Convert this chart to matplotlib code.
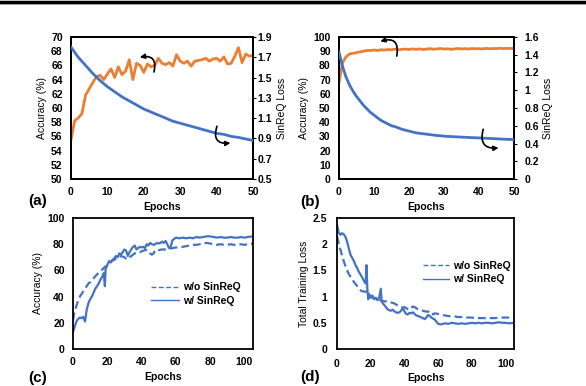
import numpy as np
import matplotlib
matplotlib.use("Agg")
import matplotlib.pyplot as plt
from matplotlib.patches import FancyArrowPatch
from matplotlib.lines import Line2D

plt.rcParams['font.family'] = ['Liberation Sans', 'DejaVu Sans']

ORANGE = '#ED7D31'
BLUE = '#4472C4'

# ---------------- data ----------------
# (a)
a_epochs = list(range(0, 51))
a_acc = [55.5, 58.2, 58.6, 59.2, 61.8, 62.7, 63.6, 64.4, 64.6, 64.0,
         64.8, 65.5, 64.3, 65.8, 64.7, 65.2, 66.8, 64.0, 66.3, 66.0,
         65.0, 66.2, 65.8, 66.0, 67.0, 66.3, 66.1, 66.4, 65.9, 67.5,
         66.6, 66.3, 66.6, 65.9, 66.6, 66.7, 66.8, 67.0, 66.6, 66.9,
         67.0, 66.6, 67.2, 66.2, 66.3, 67.3, 68.5, 66.4, 67.6, 67.3, 67.4]
a_loss_epochs = [0, 2, 4, 6, 8, 10, 12, 14, 16, 18, 20, 22, 24, 26, 28, 30,
                 32, 34, 36, 38, 40, 42, 44, 46, 48, 50]
a_loss = [1.80, 1.70, 1.62, 1.54, 1.47, 1.41, 1.36, 1.31, 1.27, 1.23, 1.19,
          1.16, 1.13, 1.10, 1.07, 1.05, 1.03, 1.01, 0.99, 0.97, 0.95, 0.94,
          0.92, 0.91, 0.895, 0.88]

# (b)
b_epochs = list(range(0, 51))
b_acc = [68, 82, 86, 88, 88.5, 89, 89.5, 90, 90.5, 90.5,
         90.8, 90.5, 91, 90.8, 91.2, 91, 91.5, 91, 91.3, 91.5,
         91.2, 91.6, 91.3, 91.6, 91.2, 91.5, 91.8, 91.4, 91.6, 91.9,
         91.5, 91.7, 91.3, 91.6, 91.9, 91.6, 91.8, 91.5, 91.9, 91.7,
         91.8, 91.6, 92.0, 91.7, 91.9, 91.8, 92.1, 91.8, 92.0, 91.9, 92.0]
b_loss = [1.43, 1.27, 1.15, 1.06, 0.99, 0.93, 0.88, 0.83, 0.79, 0.75,
          0.72, 0.69, 0.66, 0.64, 0.62, 0.60, 0.59, 0.575, 0.56, 0.55,
          0.54, 0.53, 0.52, 0.515, 0.51, 0.505, 0.50, 0.495, 0.49, 0.487,
          0.483, 0.48, 0.478, 0.476, 0.474, 0.472, 0.47, 0.468, 0.466, 0.465,
          0.463, 0.461, 0.459, 0.457, 0.455, 0.453, 0.451, 0.449, 0.447, 0.446, 0.445]

# (c)
c_w_epochs = [0, 1, 2, 3, 4, 5, 6, 7, 8, 9, 10, 11, 12, 13, 14, 15, 16, 17, 18, 18.6,
              19, 20, 21, 22, 23, 24, 25, 26, 27, 28, 29, 30, 31, 32, 33, 34, 35, 36,
              37, 38, 39, 40, 41, 42, 43, 44, 45, 46, 47, 48, 49, 50, 51, 52, 53, 54,
              55, 56, 57, 58, 59, 60, 62, 64, 66, 68, 70, 72, 74, 76, 78, 80, 82, 84,
              86, 88, 90, 92, 94, 96, 98, 100, 102, 105]
c_w_acc = [13, 17, 21, 23, 24, 23.5, 24.5, 21, 30, 35, 38, 40, 43, 46, 48, 50, 53, 55, 58, 48,
           61, 64, 67, 66, 68, 69, 71, 70, 73, 72, 74, 76, 75, 71, 74, 76, 78, 79,
           76, 77, 78, 77.5, 78, 77, 80, 79, 81, 80, 79.5, 80, 81, 80.5, 81, 82, 81, 82.5,
           80, 77, 78, 83, 84, 85, 84.5, 85, 84.5, 85, 84.5, 85.5, 85, 85.5, 86, 86, 85.5, 85,
           85.5, 85, 85, 85.5, 85, 85, 85.5, 85, 85.5, 86]
c_wo_epochs = [0, 1, 2, 3, 4, 5, 6, 7, 8, 9, 10, 11, 12, 13, 14, 15, 16, 17, 18, 19,
               20, 21, 22, 23, 24, 25, 26, 27, 28, 29, 30, 31, 32, 33, 34, 35, 36, 37,
               38, 39, 40, 41, 42, 43, 44, 45, 46, 47, 48, 49, 50, 52, 54, 56, 58, 60,
               62, 64, 66, 68, 70, 72, 74, 76, 78, 80, 82, 84, 86, 88, 90, 92, 94, 96,
               98, 100, 102, 105]
c_wo_acc = [22, 29, 33, 37, 40, 42, 44, 46, 48, 50, 51, 53, 54, 55.5, 57, 58, 59, 60.5, 62, 63,
            64, 66, 67, 67.5, 68, 69, 70, 70, 71, 70.5, 70, 69, 68.5, 69.5, 71, 72, 73, 73,
            74, 74, 74.5, 75, 75.5, 75.5, 75, 73, 72, 73, 75.5, 76, 75.5, 76, 76, 76.5, 77, 77.5,
            77.5, 78, 78.5, 79, 79.5, 79.5, 80, 80.5, 81, 80.5, 80, 79.5, 80, 79.5, 79.5, 80, 79.5, 79.5,
            80, 79.5, 80, 80.5]

# (d)
d_w_epochs = [0, 1, 2, 3, 4, 5, 6, 7, 8, 9, 10, 11, 12, 13, 14, 15, 16, 17, 17.5, 18,
              18.5, 19, 20, 21, 22, 23, 24, 25, 26, 26.5, 27, 28, 29, 30, 31, 32, 33, 34,
              35, 36, 37, 38, 39, 40, 41, 42, 43, 44, 45, 46, 47, 48, 49, 50, 51, 52,
              53, 54, 55, 56, 57, 58, 59, 60, 62, 64, 66, 68, 70, 72, 74, 76, 78, 80,
              82, 84, 86, 88, 90, 92, 94, 96, 98, 100, 102, 105]
d_w_loss = [2.37, 2.22, 2.18, 2.21, 2.19, 2.14, 2.05, 1.92, 1.80, 1.74, 1.68, 1.60, 1.54, 1.47,
            1.42, 1.36, 1.30, 1.25, 1.60, 1.15, 0.95, 1.05, 0.98, 1.02, 0.95, 0.98, 0.93, 0.98,
            1.15, 0.90, 0.88, 0.84, 0.80, 0.76, 0.74, 0.73, 0.75, 0.72, 0.70, 0.69, 0.70, 0.73,
            0.78, 0.72, 0.67, 0.66, 0.69, 0.68, 0.70, 0.67, 0.64, 0.63, 0.62, 0.60, 0.59, 0.57,
            0.60, 0.65, 0.63, 0.60, 0.58, 0.56, 0.52, 0.48, 0.47, 0.49, 0.48, 0.50, 0.49, 0.48,
            0.49, 0.48, 0.49, 0.50, 0.49, 0.50, 0.49, 0.50, 0.50, 0.49, 0.50, 0.51, 0.50, 0.50,
            0.49, 0.50]
d_wo_epochs = [0, 1, 2, 3, 4, 5, 6, 7, 8, 9, 10, 11, 12, 13, 14, 15, 16, 17, 18, 19,
               20, 21, 22, 23, 24, 25, 26, 27, 28, 29, 30, 31, 32, 33, 34, 35, 36, 37,
               38, 39, 40, 41, 42, 43, 44, 45, 46, 47, 48, 49, 50, 52, 54, 55, 56, 57,
               58, 60, 62, 64, 66, 68, 70, 72, 74, 76, 78, 80, 82, 84, 86, 88, 90, 92,
               94, 96, 98, 100, 102, 105]
d_wo_loss = [2.15, 2.02, 1.90, 1.78, 1.68, 1.58, 1.50, 1.43, 1.38, 1.33, 1.28, 1.24, 1.20, 1.16,
             1.12, 1.10, 1.10, 1.09, 1.10, 1.05, 1.00, 0.98, 0.97, 0.95, 0.95, 0.94, 0.93, 0.92,
             0.91, 0.91, 0.90, 0.90, 0.89, 0.88, 0.87, 0.85, 0.83, 0.82, 0.80, 0.79, 0.80, 0.78,
             0.76, 0.75, 0.78, 0.81, 0.80, 0.78, 0.76, 0.75, 0.74, 0.72, 0.71, 0.73, 0.70, 0.66,
             0.68, 0.67, 0.65, 0.64, 0.63, 0.62, 0.62, 0.61, 0.61, 0.60, 0.60, 0.60, 0.59, 0.59,
             0.59, 0.59, 0.59, 0.59, 0.59, 0.60, 0.60, 0.60, 0.60, 0.60]

legend_labels = ['w/o SinReQ', 'w/ SinReQ']

# ---------------- figure ----------------
W, H = 586, 386
fig = plt.figure(figsize=(W / 100, H / 100), dpi=100)


def px_axes(x0, y0, x1, y1):
    return fig.add_axes([x0 / W, 1 - y1 / H, (x1 - x0) / W, (y1 - y0) / H])


TICK_FS = 7.5
LAB_FS = 7.5


def style_box(ax):
    for s in ax.spines.values():
        s.set_linewidth(1.3)
        s.set_color('black')


def bold_ticks(ax):
    for lab in ax.get_xticklabels() + ax.get_yticklabels():
        lab.set_fontweight('bold')
        lab.set_fontsize(TICK_FS)


def arrow(ax, p0, p1, rad):
    ar = FancyArrowPatch(p0, p1, connectionstyle=f"arc3,rad={rad}",
                         arrowstyle='-|>', mutation_scale=7, lw=1.2, color='black',
                         shrinkA=0, shrinkB=0, zorder=5)
    ax.add_patch(ar)


# ---- (a)
axA = px_axes(71, 37, 253, 179)
axA.plot(a_epochs, a_acc, color=ORANGE, lw=2.0, zorder=3)
axA.set_xlim(0, 50)
axA.set_ylim(50, 70)
axA.set_xticks(range(0, 51, 10))
axA.set_yticks(range(50, 71, 2))
axA.tick_params(length=0, pad=6)
axA.set_ylabel('Accuracy (%)', fontsize=LAB_FS, labelpad=3)
axA.set_xlabel('Epochs', fontsize=LAB_FS, fontweight='bold', labelpad=3)
axA2 = axA.twinx()
axA2.plot(a_loss_epochs, a_loss, color=BLUE, lw=2.0, zorder=3)
axA2.set_ylim(0.5, 1.9)
axA2.set_yticks(np.round(np.arange(0.5, 1.91, 0.2), 1))
axA2.tick_params(length=2.5, direction='out', pad=1)
axA2.set_ylabel('SinReQ Loss', fontsize=LAB_FS, labelpad=3)
style_box(axA); style_box(axA2)
bold_ticks(axA); bold_ticks(axA2)
arrow(axA2, (22.8, 1.555), (18.9, 1.70), 0.75)
arrow(axA2, (40.1, 1.02), (43.8, 0.855), 0.75)

# ---- (b)
axB = px_axes(339, 37, 514, 179)
axB.plot(b_epochs, b_acc, color=ORANGE, lw=2.0, zorder=3)
axB.set_xlim(0, 50)
axB.set_ylim(0, 100)
axB.set_xticks(range(0, 51, 10))
axB.set_yticks(range(0, 101, 10))
axB.tick_params(length=0, pad=6)
axB.set_ylabel('Accuracy (%)', fontsize=LAB_FS, labelpad=3)
axB.set_xlabel('Epochs', fontsize=LAB_FS, fontweight='bold', labelpad=3)
axB2 = axB.twinx()
axB2.plot(b_epochs, b_loss, color=BLUE, lw=2.0, zorder=3)
axB2.set_ylim(0, 1.6)
axB2.set_yticks([0, 0.2, 0.4, 0.6, 0.8, 1.0, 1.2, 1.4, 1.6])
axB2.set_yticklabels(['0', '0.2', '0.4', '0.6', '0.8', '1', '1.2', '1.4', '1.6'])
axB2.tick_params(length=2.5, direction='out', pad=5)
axB2.set_ylabel('SinReQ Loss', fontsize=LAB_FS, labelpad=3)
style_box(axB); style_box(axB2)
bold_ticks(axB); bold_ticks(axB2)
arrow(axB2, (16.5, 1.385), (11.8, 1.55), 0.8)
arrow(axB2, (41.2, 0.56), (45.6, 0.35), 0.7)

# ---- (c)
axC = px_axes(73, 218, 253, 349)
axC.plot(c_wo_epochs, c_wo_acc, color=BLUE, lw=1.6, ls=(0, (3.5, 1.8)), label=legend_labels[0])
axC.plot(c_w_epochs, c_w_acc, color=BLUE, lw=1.6, label=legend_labels[1])
axC.set_xlim(0, 105)
axC.set_ylim(0, 100)
axC.set_xticks(range(0, 101, 20))
axC.set_yticks(range(0, 101, 20))
axC.tick_params(length=0, pad=6)
axC.set_ylabel('Accuracy (%)', fontsize=LAB_FS, labelpad=3)
axC.set_xlabel('Epochs', fontsize=LAB_FS, fontweight='bold', labelpad=3)
style_box(axC); bold_ticks(axC)
legC = axC.legend(loc='upper left', bbox_to_anchor=(0.41, 0.54), frameon=False,
                  prop=dict(size=LAB_FS, weight='bold'), handlelength=2.7,
                  handletextpad=0.4, labelspacing=0.35, borderaxespad=0)
for h in legC.get_lines():
    h.set_linewidth(1.0)

# ---- (d)
axD = px_axes(337, 218, 514, 349)
axD.plot(d_wo_epochs, d_wo_loss, color=BLUE, lw=1.6, ls=(0, (3.5, 1.8)), label=legend_labels[0])
axD.plot(d_w_epochs, d_w_loss, color=BLUE, lw=1.6, label=legend_labels[1])
axD.set_xlim(0, 105)
axD.set_ylim(0, 2.5)
axD.set_xticks(range(0, 101, 20))
axD.set_yticks([0, 0.5, 1, 1.5, 2, 2.5])
axD.set_yticklabels(['0', '0.5', '1', '1.5', '2', '2.5'])
axD.tick_params(length=0, pad=7)
axD.set_ylabel('Total Training Loss', fontsize=LAB_FS, labelpad=3)
axD.set_xlabel('Epochs', fontsize=LAB_FS, fontweight='bold', labelpad=3)
style_box(axD); bold_ticks(axD)
legD = axD.legend(loc='upper left', bbox_to_anchor=(0.463, 0.705), frameon=False,
                  prop=dict(size=LAB_FS, weight='bold'), handlelength=2.5,
                  handletextpad=0.4, labelspacing=0.35, borderaxespad=0)
for h in legD.get_lines():
    h.set_linewidth(1.0)

# panel letters
for lab, (x, y) in {'(a)': (28, 201), '(b)': (300, 202), '(c)': (28, 378), '(d)': (300, 377)}.items():
    fig.text(x / W, 1 - y / H, lab, fontsize=11, fontweight='bold', va='center', ha='left')

# top border line
fig.add_artist(Line2D([0, 1], [1 - 1.5 / H, 1 - 1.5 / H], color='black', lw=2.5,
                      transform=fig.transFigure))
fig.add_artist(Line2D([0, 1], [1 - 4 / H, 1 - 4 / H], color='#999999', lw=0.6,
                      transform=fig.transFigure))

fig.savefig('out.png', dpi=100)
